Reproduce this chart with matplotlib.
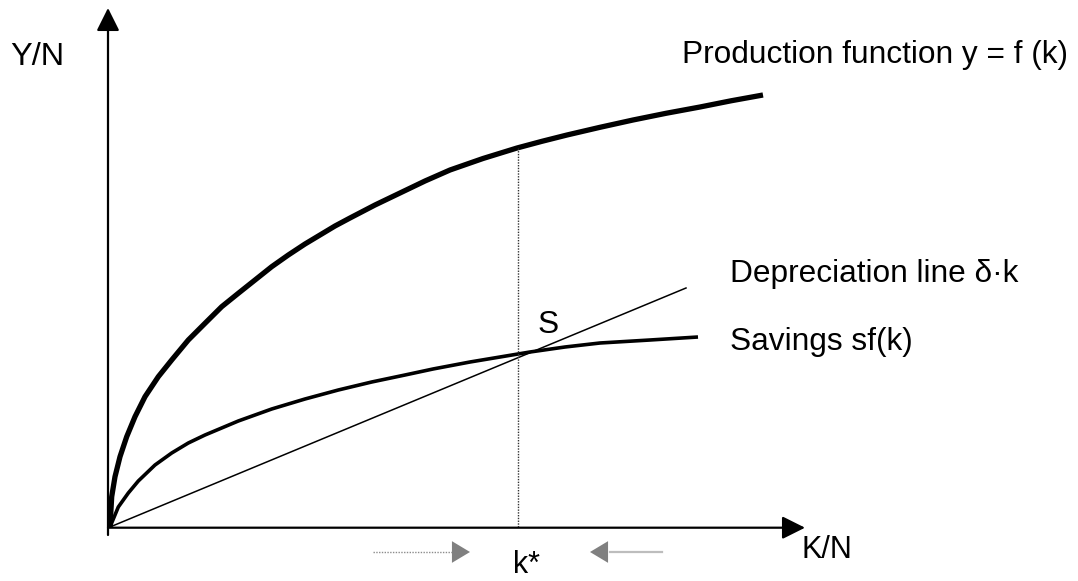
"""
Solow growth model diagram: production function, savings curve,
depreciation line and the steady state k*.
"""
import numpy as np
import matplotlib.pyplot as plt

plt.rcParams['font.family'] = ['Liberation Sans', 'DejaVu Sans']

# curve values (k = capital per worker, y = output per worker)
prod_k = [0, 0.17, 0.5, 1.0, 1.67, 2.5, 3.5, 4.83, 6.17, 7.83, 9.5, 11.17, 12.83,
          14.5, 16.17, 17.83, 19.5, 22.5, 24.0, 26.5, 29.0, 31.5, 34.0, 37.3,
          40.7, 43.2, 45.7, 49.0, 52.3, 55.6, 59.0, 62.1, 65.3]
prod_y = [0, 3.03, 5.03, 7.03, 9.03, 11.03, 13.03, 15.03, 16.7, 18.7, 20.37, 22.03,
          23.37, 24.7, 26.03, 27.2, 28.3, 30.1, 30.9, 32.2, 33.4, 34.6, 35.7, 36.85,
          37.9, 38.57, 39.2, 39.97, 40.7, 41.37, 42.0, 42.62, 43.2]

sav_k = [0, 0.83, 1.83, 2.83, 4.5, 6.17, 7.83, 9.5, 12.83, 16.17, 19.5, 22.83,
         26.17, 29.5, 32.3, 36.0, 39.0, 42.0, 45.5, 49.0, 54.0, 58.8]
sav_y = [0, 2.0, 3.4, 4.6, 6.2, 7.4, 8.4, 9.2, 10.6, 11.8, 12.8, 13.7,
         14.5, 15.2, 15.8, 16.5, 17.0, 17.5, 18.0, 18.4, 18.7, 19.0]

dep_k = [0, 57.6]
dep_y = [0, 23.9]

k_star = 40.8

fig = plt.figure(figsize=(10.78, 5.81), dpi=100)
ax = fig.add_axes([0, 0, 1, 1])
ax.set_xlim(-11.0, 96.8)
ax.set_ylim(-5.4, 52.7)
ax.axis('off')

# axes with arrow heads
arrow_kw = dict(arrowstyle='-|>,head_length=1.0,head_width=0.5', color='black',
                lw=1.6, mutation_scale=14, shrinkA=0, shrinkB=0)
ax.annotate('', xy=(-0.2, 51.9), xytext=(-0.2, -0.8), arrowprops=arrow_kw)
ax.annotate('', xy=(69.5, -0.07), xytext=(-0.2, -0.07), arrowprops=arrow_kw)

# curves
ax.plot(prod_k, prod_y, color='black', lw=3.8, solid_capstyle='butt', solid_joinstyle='round')
ax.plot(sav_k, sav_y, color='black', lw=2.6, solid_capstyle='butt', solid_joinstyle='round')
ax.plot(dep_k, dep_y, color='black', lw=1.1)

# steady state marker line
y_top = np.interp(k_star, prod_k, prod_y)
ax.plot([k_star, k_star], [0, y_top], color='#333333', lw=1.0, ls=(0, (1, 1)))

# adjustment arrows below the axis
head_kw = dict(arrowstyle='-|>,head_length=1.0,head_width=0.6', color='#808080',
               lw=0, mutation_scale=13, shrinkA=0, shrinkB=0)
ax.plot([26.3, 34.2], [-2.5, -2.5], color='#8c8c8c', lw=1.0, ls=(0, (1, 1)))
ax.annotate('', xy=(36.0, -2.5), xytext=(34.0, -2.5), arrowprops=head_kw)
ax.plot([50.0, 55.2], [-2.5, -2.5], color='#bdbdbd', lw=1.6)
ax.annotate('', xy=(48.0, -2.5), xytext=(50.2, -2.5), arrowprops=head_kw)

# labels
fs = 22.8
ax.text(-10.0, 46.2, 'Y/N', fontsize=23.4, ha='left', va='baseline')
ax.text(69.2, -3.1, 'K/N', fontsize=22, ha='left', va='baseline')
ax.text(40.3, -4.6, 'k*', fontsize=22, ha='left', va='baseline')
ax.text(57.2, 46.4, 'Production function y = f (k)', fontsize=fs, ha='left', va='baseline')
ax.text(62.0, 24.5, 'Depreciation line δ·k', fontsize=fs, ha='left', va='baseline')
ax.text(62.0, 17.7, 'Savings sf(k)', fontsize=fs, ha='left', va='baseline')
ax.text(42.8, 19.4, 'S', fontsize=fs, ha='left', va='baseline')

fig.savefig('out.png', dpi=100)
